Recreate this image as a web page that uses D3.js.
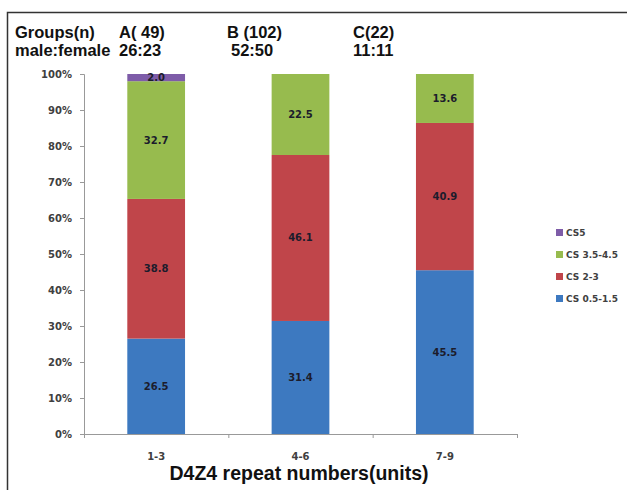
<!DOCTYPE html>
<html>
<head>
<meta charset="utf-8">
<script src="https://cdn.jsdelivr.net/npm/d3@7"></script>
<style>
    body { margin: 0; background: #fff; }
    svg { display: block; }
</style>
</head>
<body>
<script>
// categories on the x axis and the header groups
var categories = ["1-3", "4-6", "7-9"];
var groupNames = ["A( 49)", "B (102)", "C(22)"];
var groupRatios = ["26:23", "52:50", "11:11"];

// stacked series, bottom to top (percent)
var seriesNames = ["CS 0.5-1.5", "CS 2-3", "CS 3.5-4.5", "CS5"];
var cs05 = [26.5, 31.4, 45.5];
var cs23 = [38.8, 46.1, 40.9];
var cs354 = [32.7, 22.5, 13.6];
var cs5 = [2.0, 0, 0];

var yTicks = [0, 10, 20, 30, 40, 50, 60, 70, 80, 90, 100];

var colors = ["#3d79c0", "#c0454a", "#97bb4e", "#7e5ca8"];

var width = 627, height = 490;
var margin = {top: 74, left: 84};
var plotW = 433, plotH = 360;

var headFont = "Liberation Sans, Arial, sans-serif";
var smallFont = "DejaVu Sans, Verdana, sans-serif";

var svg = d3.select("body").append("svg")
    .attr("width", width)
    .attr("height", height);

// frame around the figure
svg.append("path")
    .attr("d", "M7.5,490 V12.5 H627")
    .attr("fill", "none")
    .attr("stroke", "#333")
    .attr("stroke-width", 1.5);

var g = svg.append("g")
    .attr("transform", "translate(" + margin.left + "," + margin.top + ")");

var xScale = d3.scaleBand().domain(categories).range([0, plotW])
    .paddingInner(0.6).paddingOuter(0.3);
var xEdges = d3.scaleLinear().domain([0, categories.length]).range([0, plotW]);
var yScale = d3.scaleLinear().domain([0, 100]).range([plotH, 0]);

// build table for stack
var table = categories.map(function(c, i) {
    return {key: c, s0: cs05[i], s1: cs23[i], s2: cs354[i], s3: cs5[i]};
});
var stack = d3.stack().keys(["s0", "s1", "s2", "s3"]);
var layers = stack(table);

var layer = g.selectAll(".layer")
    .data(layers)
    .enter().append("g")
    .attr("class", "layer")
    .attr("fill", function(d, i) { return colors[i]; });

layer.selectAll("rect")
    .data(function(d) { return d; })
    .enter().append("rect")
    .attr("x", function(d) { return xScale(d.data.key); })
    .attr("y", function(d) { return yScale(d[1]); })
    .attr("width", xScale.bandwidth())
    .attr("height", function(d) { return yScale(d[0]) - yScale(d[1]); });

// value labels in the middle of each segment
layer.selectAll("text")
    .data(function(d) { return d.filter(function(p) { return p[1] - p[0] > 0; }); })
    .enter().append("text")
    .attr("x", function(d) { return xScale(d.data.key) + xScale.bandwidth() / 2; })
    .attr("y", function(d) { return yScale((d[0] + d[1]) / 2); })
    .attr("dy", "0.35em")
    .attr("text-anchor", "middle")
    .attr("font-family", smallFont)
    .attr("font-size", "10px")
    .attr("font-weight", "bold")
    .attr("fill", "#1c1c2c")
    .text(function(d) { return (d[1] - d[0]).toFixed(1); });

// y axis
var yAxis = d3.axisLeft(yScale)
    .tickValues(yTicks)
    .tickSize(4)
    .tickPadding(8)
    .tickFormat(function(d) { return d + "%"; });

var yg = g.append("g").call(yAxis);
yg.select(".domain").attr("stroke", "#999").attr("d", "M-4,0.5H0.5V" + (plotH + 0.5));
yg.selectAll(".tick line").attr("stroke", "#999");
yg.selectAll(".tick text")
    .attr("font-family", smallFont)
    .attr("font-size", "10px")
    .attr("font-weight", "bold")
    .attr("fill", "#404040");

// x axis line with separating ticks
var xg = g.append("g").attr("transform", "translate(0," + plotH + ")");
xg.append("line")
    .attr("x1", 0).attr("x2", plotW)
    .attr("y1", 0.5).attr("y2", 0.5)
    .attr("stroke", "#999");
xg.selectAll(".sep")
    .data(d3.range(0, categories.length + 1))
    .enter().append("line")
    .attr("x1", function(d) { return xEdges(d) + 0.5; })
    .attr("x2", function(d) { return xEdges(d) + 0.5; })
    .attr("y1", 0).attr("y2", 4)
    .attr("stroke", "#999");
xg.selectAll(".cat")
    .data(categories)
    .enter().append("text")
    .attr("x", function(d) { return xScale(d) + xScale.bandwidth() / 2; })
    .attr("y", 26)
    .attr("text-anchor", "middle")
    .attr("font-family", smallFont)
    .attr("font-size", "10px")
    .attr("font-weight", "bold")
    .attr("fill", "#404040")
    .text(function(d) { return d; });

// x axis title
svg.append("text")
    .attr("x", 299)
    .attr("y", 480)
    .attr("text-anchor", "middle")
    .attr("font-family", headFont)
    .attr("font-size", "19.5px")
    .attr("font-weight", "bold")
    .attr("fill", "#111")
    .text("D4Z4 repeat numbers(units)");

// header lines
var headSize = "16.5px";
svg.append("text").attr("x", 15).attr("y", 38)
    .attr("font-family", headFont).attr("font-size", headSize)
    .attr("font-weight", "bold").attr("fill", "#111").text("Groups(n)");
svg.append("text").attr("x", 15).attr("y", 56)
    .attr("font-family", headFont).attr("font-size", headSize)
    .attr("font-weight", "bold").attr("fill", "#111").text("male:female");

var headX = [119, 227, 353];
var ratioX = [119, 231, 353];
svg.selectAll(".gname")
    .data(groupNames)
    .enter().append("text")
    .attr("x", function(d, i) { return headX[i]; })
    .attr("y", 38)
    .attr("font-family", headFont).attr("font-size", headSize)
    .attr("font-weight", "bold").attr("fill", "#111")
    .text(function(d) { return d; });
svg.selectAll(".gratio")
    .data(groupRatios)
    .enter().append("text")
    .attr("x", function(d, i) { return ratioX[i]; })
    .attr("y", 56)
    .attr("font-family", headFont).attr("font-size", headSize)
    .attr("font-weight", "bold").attr("fill", "#111")
    .text(function(d) { return d; });

// legend, top entry is CS5
var legend = svg.append("g").attr("transform", "translate(556,229)");
var legendItems = seriesNames.map(function(n, i) { return {name: n, color: colors[i]}; }).reverse();
var li = legend.selectAll(".li")
    .data(legendItems)
    .enter().append("g")
    .attr("transform", function(d, i) { return "translate(0," + (i * 22) + ")"; });
li.append("rect")
    .attr("width", 7).attr("height", 7)
    .attr("fill", function(d) { return d.color; });
li.append("text")
    .attr("x", 10).attr("y", 4)
    .attr("dy", "0.35em")
    .attr("font-family", smallFont)
    .attr("font-size", "9px")
    .attr("font-weight", "bold")
    .attr("fill", "#404040")
    .text(function(d) { return d.name; });
</script>
</body>
</html>
